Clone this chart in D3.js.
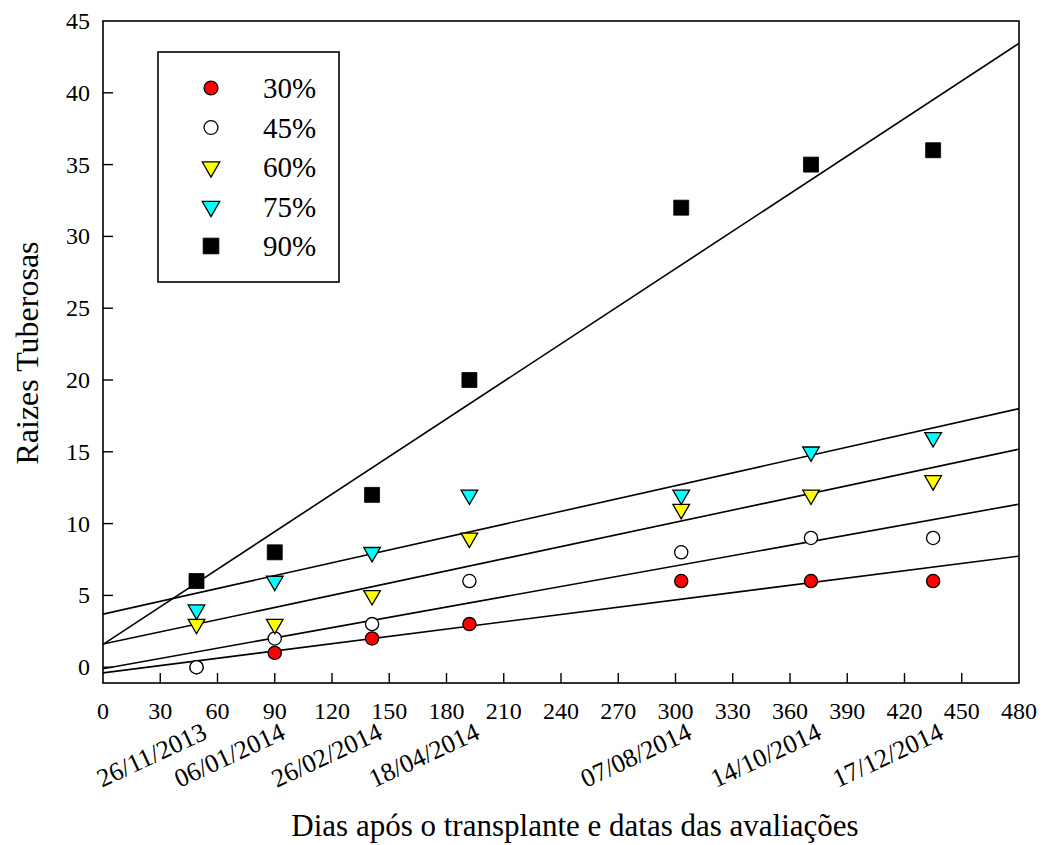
<!DOCTYPE html>
<html>
<head>
<meta charset="utf-8">
<script src="https://cdn.jsdelivr.net/npm/d3@7"></script>
<style>
  body { margin: 0; background: #fff; }
  text { font-family: "Liberation Serif", "Times New Roman", serif; fill: #000; }
</style>
</head>
<body>
<svg id="chart" width="1045" height="845"></svg>
<script>
// dias apos o transplante
var days = [49, 90, 141, 192, 303, 371, 435];
var dates = ["26/11/2013", "06/01/2014", "26/02/2014", "18/04/2014", "07/08/2014", "14/10/2014", "17/12/2014"];
var seriesNames = ["30%", "45%", "60%", "75%", "90%"];
var v30 = [0, 1, 2, 3, 6, 6, 6];
var v45 = [0, 2, 3, 6, 8, 9, 9];
var v60 = [3, 3, 5, 9, 11, 12, 13];
var v75 = [4, 6, 8, 12, 12, 15, 16];
var v90 = [6, 8, 12, 20, 32, 35, 36];
var xTicks = d3.range(0, 481, 30);
var yTicks = d3.range(0, 46, 5);

var series = [
  { name: seriesNames[0], values: v30, shape: "circle", fill: "#ff0000" },
  { name: seriesNames[1], values: v45, shape: "circle", fill: "#ffffff" },
  { name: seriesNames[2], values: v60, shape: "triangle", fill: "#ffff00" },
  { name: seriesNames[3], values: v75, shape: "triangle", fill: "#00ffff" },
  { name: seriesNames[4], values: v90, shape: "square", fill: "#000000" }
];

var svg = d3.select("#chart");
var pLeft = 103, pRight = 1019, pTop = 21, pBottom = 683;

var x = d3.scaleLinear().domain([0, 480]).range([pLeft, pRight]);
var y = d3.scaleLinear().domain([-1.1, 45]).range([pBottom, pTop]);

// reta de regressao (minimos quadrados)
function fit(xs, ys) {
  var mx = d3.mean(xs), my = d3.mean(ys);
  var sxy = d3.sum(xs, function (d, i) { return (d - mx) * (ys[i] - my); });
  var sxx = d3.sum(xs, function (d) { return (d - mx) * (d - mx); });
  var b = sxy / sxx;
  return { a: my - b * mx, b: b };
}

svg.append("clipPath").attr("id", "clip")
  .append("rect").attr("x", pLeft).attr("y", pTop)
  .attr("width", pRight - pLeft).attr("height", pBottom - pTop);

var lines = svg.append("g").attr("clip-path", "url(#clip)");
series.forEach(function (s) {
  var f = fit(days, s.values);
  lines.append("line")
    .attr("x1", x(0)).attr("y1", y(f.a))
    .attr("x2", x(480)).attr("y2", y(f.a + f.b * 480))
    .attr("stroke", "#000").attr("stroke-width", 1.6);
});

function drawMarker(g, s, cx, cy, big) {
  var k = big ? 1.05 : 1;
  if (s.shape === "circle") {
    g.append("circle").attr("cx", cx).attr("cy", cy).attr("r", 6.6 * k)
      .attr("fill", s.fill).attr("stroke", "#000").attr("stroke-width", 1.3);
  } else if (s.shape === "triangle") {
    g.append("path")
      .attr("d", d3.symbol(d3.symbolTriangle, 120 * k * k)())
      .attr("transform", "translate(" + cx + "," + cy + ") rotate(180)")
      .attr("fill", s.fill).attr("stroke", "#000").attr("stroke-width", 1.3);
  } else {
    g.append("path")
      .attr("d", d3.symbol(d3.symbolSquare, 225 * k * k)())
      .attr("transform", "translate(" + cx + "," + cy + ")")
      .attr("fill", s.fill).attr("stroke", "#000").attr("stroke-width", 0.8);
  }
}

var marks = svg.append("g");
series.forEach(function (s) {
  s.values.forEach(function (v, i) {
    drawMarker(marks, s, x(days[i]), y(v), false);
  });
});

// moldura
svg.append("rect").attr("x", pLeft).attr("y", pTop)
  .attr("width", pRight - pLeft).attr("height", pBottom - pTop)
  .attr("fill", "none").attr("stroke", "#000").attr("stroke-width", 1.6);

// eixo y, marcas para dentro
var yAxis = svg.append("g");
yTicks.forEach(function (t) {
  if (t < 45) {
    yAxis.append("line").attr("x1", pLeft).attr("x2", pLeft + 10)
      .attr("y1", y(t)).attr("y2", y(t)).attr("stroke", "#000").attr("stroke-width", 1.4);
  }
  yAxis.append("text").attr("x", 90).attr("y", y(t) + 8)
    .attr("text-anchor", "end").style("font-size", "24px").text(t);
});

// eixo x, marcas para dentro
var xAxis = svg.append("g");
xTicks.forEach(function (t) {
  if (t > 0 && t < 480) {
    xAxis.append("line").attr("x1", x(t)).attr("x2", x(t))
      .attr("y1", pBottom).attr("y2", pBottom - 10).attr("stroke", "#000").attr("stroke-width", 1.4);
  }
  xAxis.append("text").attr("x", x(t)).attr("y", 719)
    .attr("text-anchor", "middle").style("font-size", "24px").text(t);
});

// datas das avaliacoes
svg.append("g").selectAll("text").data(dates).enter().append("text")
  .attr("transform", function (d, i) { return "translate(" + (x(days[i]) + 12) + ",738) rotate(-25)"; })
  .attr("text-anchor", "end").style("font-size", "26px")
  .text(function (d) { return d; });

// titulos
svg.append("text").attr("x", 575).attr("y", 836).attr("text-anchor", "middle")
  .style("font-size", "31px").text("Dias após o transplante e datas das avaliações");
svg.append("text").attr("transform", "translate(38,353) rotate(-90)")
  .attr("text-anchor", "middle").style("font-size", "32px").text("Raizes Tuberosas");

// legenda
var legend = svg.append("g");
legend.append("rect").attr("x", 158).attr("y", 52).attr("width", 181).attr("height", 230)
  .attr("fill", "#fff").attr("stroke", "#000").attr("stroke-width", 1.6);
series.forEach(function (s, i) {
  var cy = 88 + i * 39.5;
  drawMarker(legend, s, 211, cy, true);
  legend.append("text").attr("x", 263).attr("y", cy + 10)
    .style("font-size", "29px").text(s.name);
});
</script>
</body>
</html>
